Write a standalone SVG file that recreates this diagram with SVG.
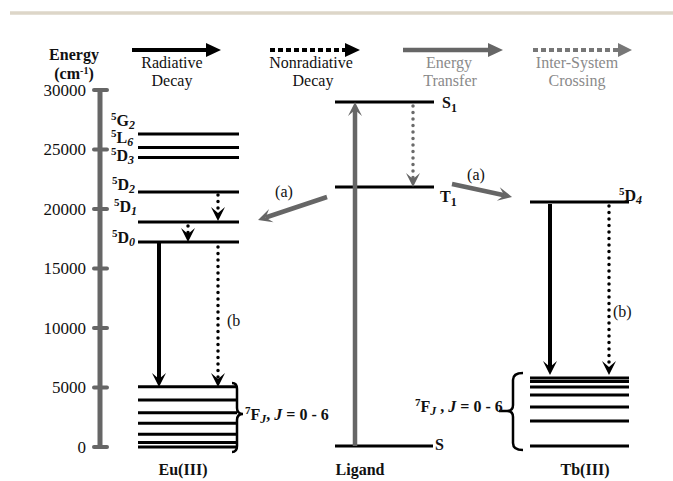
<svg xmlns="http://www.w3.org/2000/svg" width="673" height="481" viewBox="0 0 673 481">
<style>
text{font-family:"Liberation Serif","Times New Roman",serif;fill:#111}
.num{font-size:17px;text-anchor:end}
.leg{font-size:16px;text-anchor:middle}
.legg{font-size:16px;text-anchor:middle;fill:#8a8a8a}
.lv{font-size:16px;font-weight:bold}
.ttl{font-size:16px;font-weight:bold;text-anchor:middle}
.sup{font-size:11px}
.supc{font-size:10px}
.sub{font-size:12px;font-style:italic}
.subn{font-size:12px}
.it{font-style:italic}
.lvl{stroke:#000;stroke-width:3;fill:none}
.rad{stroke:#000;stroke-width:4;fill:none}
.nrad{stroke:#000;stroke-width:3.5;stroke-linecap:round;stroke-dasharray:0 6.5;fill:none}
.et{stroke:#666;stroke-width:4.5;fill:none}
.isc{stroke:#6a6a6a;stroke-width:3.5;stroke-linecap:round;stroke-dasharray:0 6.5;fill:none}
.tick{stroke:#666;stroke-width:4;stroke-linecap:round}
</style>
<defs>
<marker id="hb" markerUnits="userSpaceOnUse" markerWidth="30" markerHeight="30" viewBox="-15 -15 30 30" refX="0" refY="0" orient="auto" overflow="visible"><path d="M-6,-7 L8,0 L-6,7 L0,0 Z" fill="#000"/></marker>
<marker id="hg" markerUnits="userSpaceOnUse" markerWidth="30" markerHeight="30" viewBox="-15 -15 30 30" refX="0" refY="0" orient="auto" overflow="visible"><path d="M-6,-7 L8,0 L-6,7 L0,0 Z" fill="#666"/></marker>
<marker id="tb" markerUnits="userSpaceOnUse" markerWidth="30" markerHeight="30" viewBox="-15 -15 30 30" refX="0" refY="0" orient="auto" overflow="visible"><path d="M0,-7 L15,0 L0,7 Z" fill="#000"/></marker>
<marker id="tg" markerUnits="userSpaceOnUse" markerWidth="30" markerHeight="30" viewBox="-15 -15 30 30" refX="0" refY="0" orient="auto" overflow="visible"><path d="M0,-7 L15,0 L0,7 Z" fill="#666"/></marker>
<marker id="tg2" markerUnits="userSpaceOnUse" markerWidth="30" markerHeight="30" viewBox="-15 -15 30 30" refX="0" refY="0" orient="auto" overflow="visible"><path d="M0,-7 L14,0 L0,7 Z" fill="#777"/></marker>
</defs>

<line x1="10" y1="13" x2="673" y2="13" stroke="#ddd6c8" stroke-width="3.5"/>

<g id="legend">
<line x1="132" y1="50" x2="206" y2="50" stroke="#000" stroke-width="4" marker-end="url(#tb)"/>
<text class="leg" x="172" y="68">Radiative</text>
<text class="leg" x="172" y="86">Decay</text>
<line x1="270" y1="50" x2="345" y2="50" stroke="#000" stroke-width="4" stroke-dasharray="5 3" marker-end="url(#tb)"/>
<text class="leg" x="311" y="68">Nonradiative</text>
<text class="leg" x="313" y="86">Decay</text>
<line x1="403" y1="50" x2="488" y2="50" stroke="#666" stroke-width="4.5" marker-end="url(#tg)"/>
<text class="legg" x="449" y="68">Energy</text>
<text class="legg" x="450" y="86">Transfer</text>
<line x1="533" y1="50" x2="618" y2="50" stroke="#777" stroke-width="4" stroke-dasharray="5 3" marker-end="url(#tg2)"/>
<text class="legg" x="577" y="68">Inter-System</text>
<text class="legg" x="577" y="86">Crossing</text>
</g>

<g id="axis">
<text class="ttl" x="74" y="60">Energy</text>
<text class="ttl" x="74" y="79">(cm<tspan class="supc" dy="-5">-1</tspan><tspan dy="5">)</tspan></text>
<line x1="100" y1="90" x2="100" y2="447" stroke="#666" stroke-width="5"/>
<line class="tick" x1="94" y1="90" x2="107" y2="90"/>
<line class="tick" x1="94" y1="149.5" x2="107" y2="149.5"/>
<line class="tick" x1="94" y1="209" x2="107" y2="209"/>
<line class="tick" x1="94" y1="268.5" x2="107" y2="268.5"/>
<line class="tick" x1="94" y1="328" x2="107" y2="328"/>
<line class="tick" x1="94" y1="387.5" x2="107" y2="387.5"/>
<line class="tick" x1="94" y1="447" x2="107" y2="447"/>
<text class="num" x="86" y="95.5">30000</text>
<text class="num" x="86" y="155">25000</text>
<text class="num" x="86" y="214.5">20000</text>
<text class="num" x="86" y="274">15000</text>
<text class="num" x="86" y="333.5">10000</text>
<text class="num" x="86" y="393">5000</text>
<text class="num" x="86" y="452.5">0</text>
</g>

<g id="eu">
<line class="lvl" x1="138" y1="134" x2="239" y2="134"/>
<line class="lvl" x1="138" y1="147.5" x2="239" y2="147.5"/>
<line class="lvl" x1="138" y1="157.5" x2="239" y2="157.5"/>
<line class="lvl" x1="138" y1="192" x2="239" y2="192"/>
<line class="lvl" x1="138" y1="222" x2="239" y2="222"/>
<line class="lvl" x1="138" y1="242" x2="239" y2="242"/>
<text class="lv" x="111" y="126"><tspan class="sup" dy="-6">5</tspan><tspan dy="6">G</tspan><tspan class="sub" dy="3">2</tspan></text>
<text class="lv" x="111" y="143"><tspan class="sup" dy="-6">5</tspan><tspan dy="6">L</tspan><tspan class="sub" dy="3">6</tspan></text>
<text class="lv" x="111" y="161"><tspan class="sup" dy="-6">5</tspan><tspan dy="6">D</tspan><tspan class="sub" dy="3">3</tspan></text>
<text class="lv" x="112" y="190"><tspan class="sup" dy="-6">5</tspan><tspan dy="6">D</tspan><tspan class="sub" dy="3">2</tspan></text>
<text class="lv" x="114" y="212"><tspan class="sup" dy="-6">5</tspan><tspan dy="6">D</tspan><tspan class="sub" dy="3">1</tspan></text>
<text class="lv" x="112" y="243"><tspan class="sup" dy="-6">5</tspan><tspan dy="6">D</tspan><tspan class="sub" dy="3">0</tspan></text>
<line class="lvl" x1="138" y1="386.7" x2="237" y2="386.7"/>
<line class="lvl" x1="138" y1="400" x2="237" y2="400"/>
<line class="lvl" x1="138" y1="412.7" x2="237" y2="412.7"/>
<line class="lvl" x1="138" y1="423.3" x2="237" y2="423.3"/>
<line class="lvl" x1="138" y1="434.3" x2="237" y2="434.3"/>
<line class="lvl" x1="138" y1="442.5" x2="237" y2="442.5"/>
<line class="lvl" x1="138" y1="447" x2="237" y2="447"/>
<path d="M232,383 Q237,383 237,389 L237,408 Q237,414 243,414 Q237,414 237,420 L237,446 Q237,452 232,452" fill="none" stroke="#000" stroke-width="2.5"/>
<text class="lv" x="245" y="420"><tspan class="sup" dy="-6">7</tspan><tspan dy="6">F</tspan><tspan class="sub" dy="3">J</tspan><tspan dy="-3">, </tspan><tspan class="it">J</tspan> = 0 - 6</text>
<text class="ttl" x="183" y="475">Eu(III)</text>
</g>

<g id="ligand">
<line class="lvl" x1="335" y1="102" x2="434" y2="102"/>
<line class="lvl" x1="335" y1="187" x2="434" y2="187"/>
<line class="lvl" x1="335" y1="446" x2="433" y2="446"/>
<text class="lv" x="442" y="108">S<tspan class="subn" dy="4">1</tspan></text>
<text class="lv" x="440" y="202">T<tspan class="subn" dy="4">1</tspan></text>
<text class="lv" x="435" y="450">S</text>
<text class="ttl" x="360" y="475">Ligand</text>
</g>

<g id="tb">
<line class="lvl" x1="530" y1="202" x2="629" y2="202"/>
<text class="lv" x="619" y="201"><tspan class="sup" dy="-6">5</tspan><tspan dy="6">D</tspan><tspan class="sub" dy="3">4</tspan></text>
<line class="lvl" x1="530" y1="378" x2="629" y2="378"/>
<line class="lvl" x1="530" y1="381.5" x2="629" y2="381.5"/>
<line class="lvl" x1="530" y1="387" x2="629" y2="387"/>
<line class="lvl" x1="530" y1="395" x2="629" y2="395"/>
<line class="lvl" x1="530" y1="407" x2="629" y2="407"/>
<line class="lvl" x1="530" y1="421" x2="629" y2="421"/>
<line class="lvl" x1="530" y1="446" x2="629" y2="446"/>
<path d="M523,373 Q513,373 513,380 L513,405 Q513,411 507,411 L499,411 M507,411 Q513,411 513,417 L513,443 Q513,450 523,450" fill="none" stroke="#000" stroke-width="2.5"/>
<text class="lv" x="415" y="412"><tspan class="sup" dy="-6">7</tspan><tspan dy="6">F</tspan><tspan class="sub" dy="3">J</tspan><tspan dy="-3"> , </tspan><tspan class="it">J</tspan> = 0 - 6</text>
<text class="ttl" x="585" y="475">Tb(III)</text>
</g>

<g id="connectors">
<line class="nrad" x1="218" y1="195" x2="218" y2="213" marker-end="url(#hb)"/>
<line class="nrad" x1="188" y1="226" x2="188" y2="234" marker-end="url(#hb)"/>
<line class="rad" x1="159" y1="243" x2="159" y2="379" marker-end="url(#hb)"/>
<line class="nrad" x1="218" y1="247" x2="218" y2="379" marker-end="url(#hb)"/>
<text class="leg" x="227" y="326" style="text-anchor:start">(b</text>
<line class="et" x1="355" y1="446" x2="355" y2="110" marker-end="url(#hg)"/>
<line class="isc" x1="413" y1="106" x2="413" y2="179" marker-end="url(#hg)"/>
<line class="et" x1="327" y1="197" x2="265.6" y2="217.5" marker-end="url(#hg)"/>
<text class="leg" x="284" y="197">(a)</text>
<line class="et" x1="452" y1="184" x2="504.2" y2="195.3" marker-end="url(#hg)"/>
<text class="leg" x="476" y="180">(a)</text>
<line class="rad" x1="550" y1="204" x2="550" y2="367" marker-end="url(#hb)"/>
<line class="nrad" x1="609" y1="206" x2="609" y2="367" marker-end="url(#hb)"/>
<text class="leg" x="613" y="317" style="text-anchor:start">(b)</text>
</g>
</svg>
